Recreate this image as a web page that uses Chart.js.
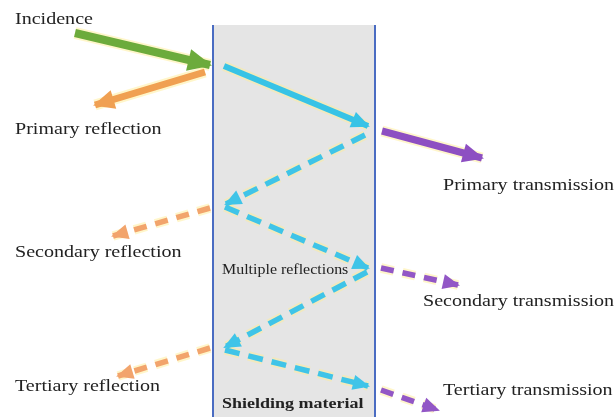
<!DOCTYPE html>
<html>
<head>
<meta charset="utf-8">
<script src="https://cdn.jsdelivr.net/npm/chart.js@4/dist/chart.umd.min.js"></script>
<style>
  html, body { margin: 0; padding: 0; background: #fff; }
  #wrap { width: 614px; height: 417px; position: relative; }
</style>
</head>
<body>
<div id="wrap"><canvas id="diagram"></canvas></div>
<script>
// diagram coordinates (x right, y down)
const arrowNames = ['incidence', 'reflect1', 'inside1', 'trans1', 'inside2', 'reflect2', 'inside3', 'trans2', 'inside4', 'reflect3', 'inside5', 'trans3'];
const arrowKind  = ['green', 'orange', 'cyan', 'purple', 'cyanDash', 'orangeDash', 'cyanDash', 'purpleDash', 'cyanDash', 'orangeDash', 'cyanDash', 'purpleDash'];
const arrowX0 = [75, 205, 224, 382, 365, 210, 225, 381, 367, 210, 225, 381];
const arrowY0 = [33, 72, 66, 131, 135, 208, 207, 268, 272, 348, 350, 390];
const arrowX1 = [210, 95, 368, 482, 226, 113, 368, 458, 225, 118, 368, 438];
const arrowY1 = [65, 105, 126, 158, 204, 236, 268, 285, 347, 376, 386, 410];

const labelText = ['Incidence', 'Primary reflection', 'Primary transmission', 'Secondary reflection', 'Multiple reflections', 'Secondary transmission', 'Tertiary reflection', 'Tertiary transmission', 'Shielding material'];
const labelX = [15, 15, 443, 15, 222, 423, 15, 443, 222];
const labelY = [20, 130, 186, 253, 270, 302, 387, 391, 404];

const slabLeft = 213, slabRight = 375, slabTop = 25, slabBottom = 417;

const kindStyle = {
  green:      { color: '#6cab3c', width: 8, dash: [] },
  orange:     { color: '#f0a052', width: 7, dash: [] },
  cyan:       { color: '#37c3e6', width: 6, dash: [] },
  purple:     { color: '#8d4fc2', width: 7, dash: [] },
  cyanDash:   { color: '#3fc4e8', width: 5.5, dash: [15, 9] },
  orangeDash: { color: '#f2a46c', width: 5.5, dash: [13, 9] },
  purpleDash: { color: '#9257c6', width: 5.5, dash: [13, 9] }
};

// font, horizontal stretch (the source text is wide)
const labelFont = {
  normal: { font: '17px "Liberation Serif"', stretch: 1.18 },
  small:  { font: '14px "Liberation Serif"', stretch: 1.14 },
  bold:   { font: 'bold 15px "Liberation Serif"', stretch: 1.2 }
};
const labelKind = ['normal', 'normal', 'normal', 'normal', 'small', 'normal', 'normal', 'normal', 'bold'];

// glow under each arrow + the arrow itself
const datasets = [];
arrowNames.forEach((name, i) => {
  const st = kindStyle[arrowKind[i]];
  datasets.push({
    label: name + '-glow',
    data: [{ x: arrowX0[i], y: arrowY0[i] }, { x: arrowX1[i], y: arrowY1[i] }],
    borderColor: 'rgba(255, 238, 150, 0.5)',
    borderWidth: st.width + 4,
    borderDash: st.dash,
    showLine: true,
    pointRadius: 0,
    borderCapStyle: 'butt',
    order: 2
  });
  datasets.push({
    label: name,
    data: [{ x: arrowX0[i], y: arrowY0[i] }, { x: arrowX1[i], y: arrowY1[i] }],
    borderColor: st.color,
    borderWidth: st.width,
    borderDash: st.dash,
    showLine: true,
    pointRadius: 0,
    borderCapStyle: 'butt',
    order: 1,
    arrowColor: st.color,
    arrowSize: st.width * 2.5
  });
});

// gray slab behind everything
const slabPlugin = {
  id: 'slab',
  beforeDatasetsDraw(chart) {
    const { ctx, scales } = chart;
    const l = scales.x.getPixelForValue(slabLeft), r = scales.x.getPixelForValue(slabRight);
    const t = scales.y.getPixelForValue(slabTop), b = scales.y.getPixelForValue(slabBottom);
    ctx.save();
    ctx.fillStyle = '#e5e5e5';
    ctx.fillRect(l, t, r - l, b - t);
    ctx.strokeStyle = '#4a6cc2';
    ctx.lineWidth = 2;
    ctx.beginPath();
    ctx.moveTo(l, t); ctx.lineTo(l, b);
    ctx.moveTo(r, t); ctx.lineTo(r, b);
    ctx.stroke();
    ctx.restore();
  }
};

// arrow heads and labels
const headsPlugin = {
  id: 'heads',
  afterDatasetsDraw(chart) {
    const { ctx, scales } = chart;
    ctx.save();
    chart.data.datasets.forEach((ds, i) => {
      if (!ds.arrowColor) return;
      const pts = chart.getDatasetMeta(i).data;
      const a = pts[0], b = pts[1];
      const ang = Math.atan2(b.y - a.y, b.x - a.x);
      const len = ds.arrowSize * 1.1, half = ds.arrowSize * 0.55;
      ctx.fillStyle = ds.arrowColor;
      ctx.beginPath();
      ctx.moveTo(b.x + Math.cos(ang) * 2, b.y + Math.sin(ang) * 2);
      ctx.lineTo(b.x - Math.cos(ang) * len - Math.sin(ang) * half, b.y - Math.sin(ang) * len + Math.cos(ang) * half);
      ctx.lineTo(b.x - Math.cos(ang) * len + Math.sin(ang) * half, b.y - Math.sin(ang) * len - Math.cos(ang) * half);
      ctx.closePath();
      ctx.fill();
    });
    ctx.fillStyle = '#222';
    ctx.textBaseline = 'middle';
    ctx.textAlign = 'left';
    labelText.forEach((txt, i) => {
      const f = labelFont[labelKind[i]];
      ctx.save();
      ctx.font = f.font;
      ctx.translate(scales.x.getPixelForValue(labelX[i]), scales.y.getPixelForValue(labelY[i]));
      ctx.scale(f.stretch, 1);
      ctx.fillText(txt, 0, 0);
      ctx.restore();
    });
    ctx.restore();
  }
};

new Chart(document.getElementById('diagram'), {
  type: 'scatter',
  data: { datasets: datasets },
  options: {
    responsive: true,
    maintainAspectRatio: false,
    animation: false,
    layout: { padding: 0 },
    plugins: { legend: { display: false }, tooltip: { enabled: false } },
    scales: {
      x: { type: 'linear', min: 0, max: 614, display: false },
      y: { type: 'linear', min: 0, max: 417, reverse: true, display: false }
    }
  },
  plugins: [slabPlugin, headsPlugin]
});
</script>
</body>
</html>
